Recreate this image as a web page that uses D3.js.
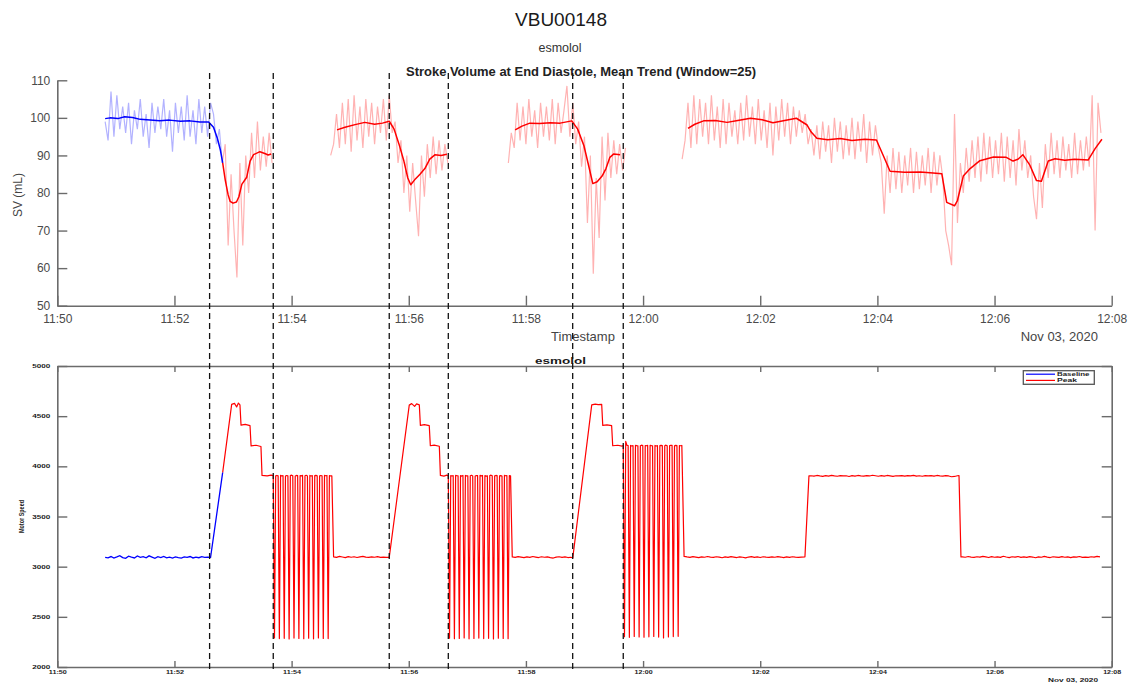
<!DOCTYPE html>
<html>
<head>
<meta charset="utf-8">
<script src="https://cdn.jsdelivr.net/npm/d3@7"></script>
<style>
  html, body { margin: 0; padding: 0; background: #fff; }
  svg { display: block; }
</style>
</head>
<body>
<svg id="chart" width="1130" height="683"></svg>
<script>
// ---- Session window (Nov 03, 2020), times below are seconds after 11:50:00 ----
const sessionStart = new Date(2020, 10, 3, 11, 50, 0);
const sessionEnd = new Date(2020, 10, 3, 12, 8, 0);

// Event markers (dashed verticals), seconds after 11:50:00
const markerSec = [156, 221.2, 340, 400.5, 527.9, 579.7];

// ---- Stroke volume (mL), beat readings every 3 s ----
const svRawStep = 3;
const svBaseRawStart = 49;
const svBaseRaw = [99, 94, 107, 95, 106, 97, 103, 96, 104, 93, 102, 97, 105, 95, 101, 92, 104, 96, 103, 97,
  105, 95, 102, 91, 104, 96, 103, 94, 106, 95, 102, 93, 105, 96, 103, 95, 104, 101, 93, 97, 88];
const svPeakRawStarts = [169, 280, 462, 640];
const svPeakRaw1 = [88, 93, 66, 85, 70, 57.5, 88, 66, 90, 80, 96, 84, 99, 86, 95, 87, 96, 88];
const svPeakRaw2 = [90, 93, 101, 92, 104, 93, 105, 91, 106, 94, 103, 92, 105, 95, 104, 93, 103, 96, 105, 94,
  106, 96, 99, 88, 94, 80, 90, 75, 88, 78, 68.5, 90, 79, 93, 84, 95, 85, 94, 86, 93, 88];
const svPeakRaw3 = [88, 96, 92, 104, 94, 103, 93, 105, 95, 102, 92, 104, 95, 103, 94, 105, 93, 104, 96, 102,
  108.5, 95, 104, 93, 99, 87, 95, 72, 90, 58.5, 84, 68, 95, 78, 96, 84, 94, 85, 93, 86, 92];
const svPeakRaw4 = [
  89, 94, 104, 92, 106, 93, 105, 95, 104, 93,
  106, 94, 103, 92, 105, 93, 104, 95, 102, 93,
  104, 94, 106, 95, 103, 93, 105, 94, 102, 92,
  104, 90, 103, 94, 105, 95, 104, 93, 103, 95,
  102, 96, 101, 93, 97, 90, 98, 89, 99, 91,
  98, 88, 100, 91, 99, 89, 98, 90, 100, 89,
  99, 91, 101, 88, 99, 90, 98, 92, 88, 74.5,
  90, 80, 92, 81, 91, 80, 90, 82, 92, 80,
  91, 81, 90, 82, 92, 80, 91, 82, 90, 84,
  70, 66, 60.8, 101, 72, 88, 80, 92, 83, 94,
  84, 95, 83, 96, 85, 95, 84, 94, 85, 96,
  83, 95, 84, 94, 82, 97, 86, 94, 84, 90,
  79, 73, 88, 76, 93, 84, 96, 85, 94, 84,
  95, 86, 93, 84, 96, 85, 94, 86, 95, 87,
  106, 70, 104, 96];

// Mean trend (window = 25), [seconds, mL]
const svBaseTrend = [[49, 99.8], [54, 100.0], [62, 99.8], [69, 100.3], [77, 100.1], [85, 99.6], [95, 99.4],
  [105, 99.2], [115, 99.4], [126, 99.1], [136, 99.2], [146, 98.9], [155, 98.9], [160, 97.5], [164, 94.5],
  [167, 91.5], [169.4, 88]];
const svPeakTrend1 = [[169.4, 88], [172, 83.5], [175, 79.5], [177, 77.8], [180, 77.3], [183.5, 77.6], [186, 79],
  [189, 82.3], [194, 84.2], [197.5, 88.5], [201, 90.2], [207.5, 91], [212.5, 90.5], [216, 90.1], [219, 90.4]];
const svPeakTrend2 = [[286.5, 96.8], [294.7, 97.5], [305, 98.2], [315, 98.8], [325, 98.3], [333, 98.6], [340, 99.1],
  [345, 97], [350, 93], [355, 88.5], [359, 84], [362, 82.2], [366, 83.5], [371.5, 85], [376.5, 86.5],
  [381.5, 89], [387, 90.2], [393, 90], [399, 90.3]];
const svPeakTrend3 = [[469, 96.8], [476, 97.8], [484, 98.6], [494, 98.5], [505, 98.7], [515, 98.6], [527, 99.2],
  [533, 97], [539.5, 92.5], [544.5, 87], [548.5, 82.5], [553, 83], [558, 84.5], [562, 86.5], [566, 89.5],
  [570, 90.4], [576.5, 90.2]];
const svPeakTrend4 = [[646, 97.2], [653, 98.3], [662, 99.2], [674, 99.3], [686, 98.8], [697, 99.3], [710, 99.9],
  [722, 99.5], [733, 98.7], [745, 99.3], [757, 99.9], [768, 98.1], [772, 96.3], [778, 94.6], [789, 94.2],
  [802, 94.5], [814, 94], [827, 94.3], [839, 94.1], [846, 90], [853, 85.8], [868, 85.5], [884, 85.6],
  [897, 85.3], [906, 85.1], [911, 77.5], [919, 76.6], [922, 78], [928, 84.5], [935, 86.5], [945, 88.6],
  [959, 89.6], [972, 89.5], [979, 88.5], [984, 89], [989, 90.2], [996, 87.5], [1003, 83.3], [1008, 83.1],
  [1015, 88.5], [1022, 89.1], [1032, 88.7], [1042, 89], [1056, 88.8], [1063, 91.8], [1070, 94.3]];

const svTicks = [50, 60, 70, 80, 90, 100, 110];

// ---- Motor speed ----
// Baseline phase: readings every 3 s from 11:50:49, then the start of the first ramp
const motorBaseRunStart = 49;
const motorBaseRun = [3092, 3088, 3101, 3085, 3097, 3110, 3090, 3083, 3104, 3095, 3087, 3106, 3093, 3100, 3089, 3108,
  3096, 3084, 3099, 3091, 3102, 3088, 3094, 3086, 3098, 3090, 3085, 3097, 3092, 3101, 3087, 3095, 3089, 3099, 3093, 3096];
const motorBaseCorners = [[157, 3093], [169.4, 3940]];

// Peak phase: ramps and steps [seconds, rpm]
const motorPeakCorners = [
  [169.4, 3940], [178.6, 4617], [181.5, 4628], [183.7, 4592], [185.5, 4630], [187.1, 4612], [188.2, 4410],
  [192.5, 4418], [197.4, 4405], [198.5, 4203], [203.5, 4210], [208.6, 4198], [209.7, 3910], [215, 3905], [219, 3912],
  [340, 3092], [360.5, 4610], [363, 4625], [366, 4598], [368, 4622], [370.8, 4612], [371.9, 4408], [376, 4415],
  [381, 4405], [382.1, 4205], [386, 4212], [391.3, 4200], [392.4, 3910], [396, 3903], [399, 3912],
  [528, 3088], [547.4, 4612], [551, 4620], [554, 4615], [557.6, 4618], [558.7, 4408], [563, 4414], [567.8, 4405],
  [568.9, 4205], [574, 4210], [578.5, 4202],
  [765.8, 3098], [769.9, 3905], [923.6, 3908], [925.6, 3097]];

// Pacing bursts sampled every 1.25 s
const pacingStep = 1.25;
const pacingStarts = [221.2, 400.5, 579.7];
const pacing1 = [3907,
  2290, 3905, 3909, 3906, 2283, 3910, 3904, 3908, 2286, 3903, 3908, 3906,
  2280, 3907, 3912, 3905, 2288, 3904, 3909, 3907, 2284, 3908, 3905, 3910,
  2282, 3906, 3911, 3904, 2287, 3909, 3904, 3907, 2281, 3907, 3910, 3905,
  2289, 3905, 3908, 3906, 2285, 3910, 3906, 3909, 2283, 3907, 3904, 3906];
const pacing2 = [3905,
  2287, 3908, 3904, 3907, 2282, 3910, 3906, 3905, 2284, 3907, 3903, 3909,
  2289, 3909, 3905, 3906, 2281, 3906, 3911, 3904, 2285, 3904, 3908, 3907,
  2288, 3910, 3905, 3909, 2283, 3907, 3903, 3906, 2286, 3908, 3912, 3905,
  2280, 3906, 3909, 3908, 2287, 3905, 3908, 3904, 2284, 3910, 3906, 3907,
  2282, 3907, 3905];
const pacing3 = [4207,
  2302, 4248, 4210, 4206, 2296, 4208, 4203, 4207, 2305, 4209, 4206, 4204,
  2299, 4204, 4211, 4208, 2297, 4207, 4205, 4209, 2301, 4210, 4206, 4205,
  2304, 4208, 4203, 4207, 2298, 4207, 4209, 4206, 2290, 4205, 4211, 4204,
  2300, 4206, 4208, 4209, 2303, 4204, 4209, 4206, 2306, 4207, 4205, 4208];

// Flat stretches of the peak phase, readings every 3 s
const motorRunStep = 3;
const motorRunStarts = [283, 466, 642, 772, 927];
const motorRun1 = [3098, 3093, 3102, 3096, 3090, 3100, 3094, 3099, 3091, 3097, 3103, 3095, 3092, 3098, 3094, 3100, 3093, 3096, 3092];
const motorRun2 = [3097, 3092, 3100, 3095, 3090, 3098, 3093, 3101, 3096, 3091, 3099, 3094, 3097, 3090, 3086, 3095, 3099, 3093, 3097, 3091, 3094];
const motorRun3 = [3102, 3097, 3093, 3100, 3095, 3090, 3098, 3094, 3101, 3096, 3092, 3099, 3095, 3089, 3097, 3093, 3100, 3096, 3091, 3098,
  3094, 3088, 3096, 3100, 3093, 3097, 3091, 3099, 3095, 3092, 3098, 3094, 3100, 3096, 3090, 3097, 3093, 3099, 3095, 3092, 3096];
const motorRun4 = [3906, 3902, 3909, 3904, 3900, 3907, 3903, 3910, 3905, 3901, 3908, 3904, 3906, 3899, 3907, 3903, 3909, 3905, 3902, 3908,
  3904, 3911, 3906, 3901, 3907, 3903, 3909, 3905, 3900, 3906, 3904, 3908, 3902, 3907, 3905, 3910, 3903, 3906, 3901, 3908,
  3904, 3907, 3902, 3909, 3905, 3903, 3907, 3904, 3896, 3899, 3906];
const motorRun5 = [3098, 3094, 3101, 3096, 3092, 3099, 3095, 3103, 3097, 3091, 3100, 3094, 3098, 3093, 3104, 3096, 3090, 3099, 3095, 3101,
  3093, 3097, 3092, 3100, 3096, 3089, 3098, 3094, 3102, 3095, 3091, 3099, 3096, 3093, 3100, 3094, 3097, 3090, 3098, 3095,
  3101, 3093, 3096, 3092, 3099, 3095, 3103, 3097];

const motorTicks = [2000, 2500, 3000, 3500, 4000, 4500, 5000];

// ---- helpers ----
const at = s => new Date(sessionStart.getTime() + s * 1000);
const run = (start, step, values) => values.map((v, i) => [start + i * step, v]);
const pairs = list => list.map(([s, v]) => [s, v]);

const FONT = '"Liberation Sans", Arial, Helvetica, sans-serif';
const BLUE = "#0000ff", RED = "#ff0000", AXIS = "#6b6b6b";

const svg = d3.select("#chart").attr("font-family", FONT);

const x = d3.scaleTime().domain([sessionStart, sessionEnd]).range([57.3, 1111.7]);
const ySV = d3.scaleLinear().domain([50, 110]).range([305.7, 80.3]);
const yMotor = d3.scaleLinear().domain([2000, 5000]).range([667, 366]);

const lineSV = d3.line().x(d => x(at(d[0]))).y(d => ySV(d[1]));
const lineMotor = d3.line().x(d => x(at(d[0]))).y(d => yMotor(d[1]));

const styleAxis = (g, size, color, weight) => {
  g.attr("font-family", FONT).attr("font-size", size);
  g.selectAll(".domain").attr("stroke", AXIS).attr("stroke-width", 1.6);
  g.selectAll(".tick line").attr("stroke", AXIS).attr("stroke-width", 1.4);
  g.selectAll(".tick text").attr("fill", color).attr("font-weight", weight || "normal");
};

// ---- headings ----
svg.append("text").attr("x", 561).attr("y", 26).attr("text-anchor", "middle")
  .attr("font-size", 19).attr("fill", "#1a1a1a").text("VBU00148");
svg.append("text").attr("x", 560).attr("y", 52).attr("text-anchor", "middle")
  .attr("font-size", 12.5).attr("fill", "#333").text("esmolol");
svg.append("text").attr("x", 581).attr("y", 76).attr("text-anchor", "middle")
  .attr("font-size", 12.5).attr("font-weight", "bold").attr("fill", "#222")
  .attr("textLength", 350).attr("lengthAdjust", "spacingAndGlyphs")
  .text("Stroke Volume at End Diastole, Mean Trend (Window=25)");

// ---- stroke volume panel ----
const gTop = svg.append("g");
gTop.append("g").attr("transform", `translate(0,${ySV(50)})`)
  .call(d3.axisBottom(x).ticks(d3.timeMinute.every(2)).tickFormat(d3.timeFormat("%H:%M"))
    .tickSizeInner(-10).tickSizeOuter(0).tickPadding(8.5))
  .call(g => styleAxis(g, 12, "#4a4a4a"));
gTop.append("g").attr("transform", `translate(${x(sessionStart)},0)`)
  .call(d3.axisLeft(ySV).tickValues(svTicks).tickSizeInner(-10).tickSizeOuter(0).tickPadding(7))
  .call(g => styleAxis(g, 12, "#4a4a4a"));

gTop.append("text").attr("transform", "translate(22,195) rotate(-90)").attr("text-anchor", "middle")
  .attr("font-size", 12).attr("fill", "#444").text("SV (mL)");
gTop.append("text").attr("x", 583).attr("y", 341).attr("text-anchor", "middle")
  .attr("font-size", 13).attr("fill", "#444").text("Timestamp");
gTop.append("text").attr("x", 1098).attr("y", 341).attr("text-anchor", "end")
  .attr("font-size", 13).attr("fill", "#444").text("Nov 03, 2020");

// raw beats (faint) then mean trend
const rawSets = [
  { pts: run(svBaseRawStart, svRawStep, svBaseRaw), color: BLUE },
  { pts: run(svPeakRawStarts[0], svRawStep, svPeakRaw1), color: RED },
  { pts: run(svPeakRawStarts[1], svRawStep, svPeakRaw2), color: RED },
  { pts: run(svPeakRawStarts[2], svRawStep, svPeakRaw3), color: RED },
  { pts: run(svPeakRawStarts[3], svRawStep, svPeakRaw4), color: RED }
];
gTop.selectAll("path.raw").data(rawSets).join("path").attr("class", "raw")
  .attr("d", d => lineSV(d.pts)).attr("fill", "none")
  .attr("stroke", d => d.color).attr("stroke-opacity", 0.3).attr("stroke-width", 1.2);

const trendSets = [
  { pts: pairs(svBaseTrend), color: BLUE },
  { pts: pairs(svPeakTrend1), color: RED },
  { pts: pairs(svPeakTrend2), color: RED },
  { pts: pairs(svPeakTrend3), color: RED },
  { pts: pairs(svPeakTrend4), color: RED }
];
gTop.selectAll("path.trend").data(trendSets).join("path").attr("class", "trend")
  .attr("d", d => lineSV(d.pts)).attr("fill", "none")
  .attr("stroke", d => d.color).attr("stroke-width", 1.5).attr("stroke-linejoin", "round");

// ---- motor speed panel ----
const gBot = svg.append("g");
const tiny = (sel, w) => sel.attr("font-weight", "bold").attr("fill", "#1a1a1a")
  .attr("textLength", w).attr("lengthAdjust", "spacingAndGlyphs");

gBot.append("g").attr("transform", `translate(0,${yMotor(2000)})`)
  .call(d3.axisBottom(x).ticks(d3.timeMinute.every(2)).tickFormat(d3.timeFormat("%H:%M"))
    .tickSizeInner(-6).tickSizeOuter(0).tickPadding(3))
  .call(g => { styleAxis(g, 6, "#1a1a1a", "bold"); tiny(g.selectAll(".tick text"), 18); });
gBot.append("g").attr("transform", `translate(0,${yMotor(5000)})`)
  .call(d3.axisTop(x).ticks(d3.timeMinute.every(2)).tickFormat("").tickSizeInner(-6).tickSizeOuter(0))
  .call(g => styleAxis(g, 6, "#1a1a1a"));
gBot.append("g").attr("transform", `translate(${x(sessionStart)},0)`)
  .call(d3.axisLeft(yMotor).tickValues(motorTicks).tickFormat(d3.format("d"))
    .tickSizeInner(-10).tickSizeOuter(0).tickPadding(7))
  .call(g => { styleAxis(g, 5, "#1a1a1a", "bold"); tiny(g.selectAll(".tick text"), 18); });
gBot.append("g").attr("transform", `translate(${x(sessionEnd)},0)`)
  .call(d3.axisRight(yMotor).tickValues(motorTicks).tickFormat("").tickSizeInner(-10).tickSizeOuter(0))
  .call(g => styleAxis(g, 5, "#1a1a1a"));

tiny(gBot.append("text").attr("x", 560.5).attr("y", 364).attr("text-anchor", "middle")
  .attr("font-size", 9).text("esmolol"), 51);
tiny(gBot.append("text").attr("transform", "translate(24,516.5) rotate(-90)").attr("text-anchor", "middle")
  .attr("font-size", 8).text("Motor Speed"), 33);
tiny(gBot.append("text").attr("x", 1073).attr("y", 682).attr("text-anchor", "middle")
  .attr("font-size", 5.5).text("Nov 03, 2020"), 50);

const motorBase = run(motorBaseRunStart, 3, motorBaseRun).concat(pairs(motorBaseCorners));
const motorPeak = pairs(motorPeakCorners)
  .concat(run(pacingStarts[0], pacingStep, pacing1))
  .concat(run(pacingStarts[1], pacingStep, pacing2))
  .concat(run(pacingStarts[2], pacingStep, pacing3))
  .concat(run(motorRunStarts[0], motorRunStep, motorRun1))
  .concat(run(motorRunStarts[1], motorRunStep, motorRun2))
  .concat(run(motorRunStarts[2], motorRunStep, motorRun3))
  .concat(run(motorRunStarts[3], motorRunStep, motorRun4))
  .concat(run(motorRunStarts[4], motorRunStep, motorRun5))
  .sort((a, b) => a[0] - b[0]);

gBot.append("path").attr("d", lineMotor(motorBase)).attr("fill", "none")
  .attr("stroke", BLUE).attr("stroke-width", 1.3);
gBot.append("path").attr("d", lineMotor(motorPeak)).attr("fill", "none")
  .attr("stroke", RED).attr("stroke-width", 1.2).attr("stroke-linejoin", "round");

// legend
const lg = gBot.append("g");
lg.append("rect").attr("x", 1023.3).attr("y", 370.7).attr("width", 71).attr("height", 13.6)
  .attr("fill", "#fff").attr("stroke", "#555").attr("stroke-width", 1.3);
[["Baseline", BLUE, 374.2, 32.5], ["Peak", RED, 380.4, 20]].forEach(([name, c, yy, w]) => {
  lg.append("line").attr("x1", 1026).attr("x2", 1055).attr("y1", yy).attr("y2", yy)
    .attr("stroke", c).attr("stroke-width", 1.2);
  tiny(lg.append("text").attr("x", 1057).attr("y", yy + 2).attr("font-size", 5.5).text(name), w);
});

// ---- event markers across both panels ----
svg.append("g").selectAll("line").data(markerSec).join("line")
  .attr("x1", d => x(at(d))).attr("x2", d => x(at(d)))
  .attr("y1", 73).attr("y2", 673)
  .attr("stroke", "#111").attr("stroke-width", 1.3).attr("stroke-dasharray", "6,4");
</script>
</body>
</html>
